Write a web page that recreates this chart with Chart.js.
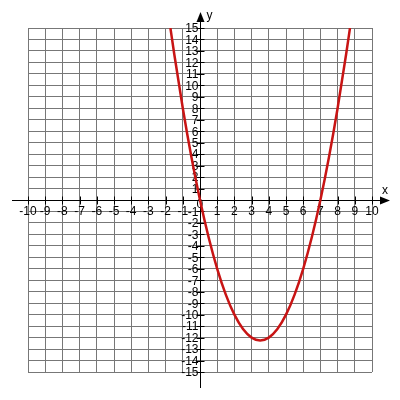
<!DOCTYPE html>
<html>
<head>
<meta charset="utf-8">
<script src="https://cdn.jsdelivr.net/npm/chart.js@4.4.1/dist/chart.umd.min.js"></script>
<style>
  html, body { margin: 0; padding: 0; background: #fff; }
  canvas { display: block; }
</style>
</head>
<body>
<canvas id="graph" width="400" height="400"></canvas>
<script>
// points
const xValues = [-1.72, -1.5, -1, -0.5, 0, 0.5, 1, 1.5, 2, 2.5, 3, 3.5, 4, 4.5, 5, 5.5, 6, 6.5, 7, 7.5, 8, 8.5, 8.72];
const yValues = [15, 12.75, 8, 3.75, 0, -3.25, -6, -8.25, -10, -11.25, -12, -12.25, -12, -11.25, -10, -8.25, -6, -3.25, 0, 3.75, 8, 12.75, 15];

const xTicks = [-10, -9, -8, -7, -6, -5, -4, -3, -2, -1, 1, 2, 3, 4, 5, 6, 7, 8, 9, 10];
const yTicks = [15, 14, 13, 12, 11, 10, 9, 8, 7, 6, 5, 4, 3, 2, 1, -1, -2, -3, -4, -5, -6, -7, -8, -9, -10, -11, -12, -13, -14, -15];

const labelFont = '12px "Liberation Sans Narrow", "Liberation Sans", Arial, sans-serif';

// axes, arrows and labels drawn under the curve
const axesPlugin = {
  id: 'axes',
  beforeDatasetsDraw(chart) {
    const ctx = chart.ctx;
    const sx = chart.scales.x, sy = chart.scales.y;
    const ox = Math.round(sx.getPixelForValue(0)) + 0.5;
    const oy = Math.round(sy.getPixelForValue(0)) + 0.5;
    ctx.save();
    ctx.strokeStyle = '#000';
    ctx.fillStyle = '#000';
    ctx.lineWidth = 1;
    ctx.beginPath();
    ctx.moveTo(12, oy); ctx.lineTo(382, oy);
    ctx.moveTo(ox, 20); ctx.lineTo(ox, 388);
    xTicks.forEach(v => {
      const px = Math.round(sx.getPixelForValue(v)) + 0.5;
      ctx.moveTo(px, oy - 4); ctx.lineTo(px, oy + 4);
    });
    yTicks.forEach(v => {
      const py = Math.round(sy.getPixelForValue(v)) + 0.5;
      ctx.moveTo(ox - 4, py); ctx.lineTo(ox + 4, py);
    });
    ctx.stroke();

    // arrow heads
    ctx.beginPath();
    ctx.moveTo(ox, 12); ctx.lineTo(ox - 4, 22); ctx.lineTo(ox + 4, 22); ctx.closePath();
    ctx.fill();
    ctx.beginPath();
    ctx.moveTo(390, oy); ctx.lineTo(380, oy - 4); ctx.lineTo(380, oy + 4); ctx.closePath();
    ctx.fill();

    ctx.font = labelFont;
    ctx.textBaseline = 'middle';
    ctx.textAlign = 'center';
    xTicks.forEach(v => {
      ctx.fillText(String(v), sx.getPixelForValue(v), oy + 11);
    });
    ctx.textAlign = 'right';
    yTicks.forEach(v => {
      ctx.fillText(String(v), ox - 2, sy.getPixelForValue(v) + 1);
    });
    ctx.textAlign = 'left';
    ctx.fillText('0', ox - 4, oy + 4);
    ctx.fillText('y', ox + 6, 16);
    ctx.fillText('x', 382, oy - 10);
    ctx.restore();
  }
};

const chart = new Chart(document.getElementById('graph').getContext('2d'), {
  type: 'scatter',
  data: {
    datasets: [{
      data: xValues.map((x, i) => ({ x: x, y: yValues[i] })),
      showLine: true,
      borderColor: '#c81414',
      borderWidth: 2.5,
      pointRadius: 0,
      tension: 0.4,
      cubicInterpolationMode: 'monotone'
    }]
  },
  options: {
    responsive: false,
    animation: false,
    layout: { padding: { left: 28, right: 28, top: 28, bottom: 28 } },
    plugins: { legend: { display: false }, tooltip: { enabled: false } },
    scales: {
      x: {
        type: 'linear', min: -10, max: 10,
        ticks: { display: false, stepSize: 1 },
        grid: { color: '#777777', lineWidth: 1, drawTicks: false },
        border: { display: false }
      },
      y: {
        type: 'linear', min: -15, max: 15,
        ticks: { display: false, stepSize: 1 },
        grid: { color: '#777777', lineWidth: 1, drawTicks: false },
        border: { display: false }
      }
    }
  },
  plugins: [axesPlugin]
});
</script>
</body>
</html>
